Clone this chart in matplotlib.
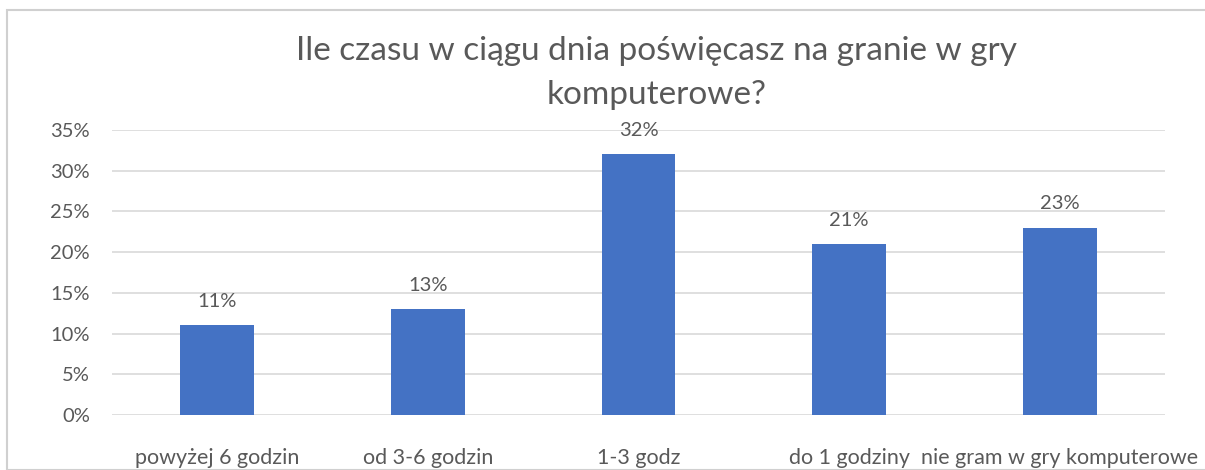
import matplotlib
matplotlib.use("Agg")
import matplotlib.pyplot as plt
from matplotlib.ticker import PercentFormatter
from matplotlib.patches import Rectangle

categories = ["powyżej 6 godzin", "od 3-6 godzin", "1-3 godz", "do 1 godziny", "nie gram w gry komputerowe"]
values = [11, 13, 32, 21, 23]
yticks = [0, 5, 10, 15, 20, 25, 30, 35]
title = "Ile czasu w ciągu dnia poświęcasz na granie w gry\nkomputerowe?"

plt.rcParams['font.family'] = ['Lato', 'DejaVu Sans']
TXT = "#595959"
BAR = "#4472C4"
GRID = "#D9D9D9"

W, H = 1205, 470
fig = plt.figure(figsize=(W / 100, H / 100), dpi=100)
fig.patches.append(Rectangle((7 / W, 0), 1.2, 1 - 10 / H, transform=fig.transFigure,
                             fill=False, edgecolor="#D0D0D0", linewidth=1.5))

left, right = 112, 1165
top, bottom = 130, 415
ax = fig.add_axes([left / W, 1 - bottom / H, (right - left) / W, (bottom - top) / H])

x = list(range(len(categories)))
bars = ax.bar(x, values, width=0.35, color=BAR, zorder=3)
ax.set_xlim(-0.5, len(categories) - 0.5)
ax.set_ylim(0, 35)
ax.set_yticks(yticks)
ax.yaxis.set_major_formatter(PercentFormatter(decimals=0))
ax.grid(axis="y", color=GRID, linewidth=1.2, zorder=0)
for s in ax.spines.values():
    s.set_visible(False)
ax.tick_params(axis="both", length=0, colors=TXT, labelsize=14)
ax.tick_params(axis="y", pad=16, labelsize=14.5)
ax.tick_params(axis="x", pad=24, labelsize=15.5)
ax.set_xticks(x)
ax.set_xticklabels(categories)

for b, v in zip(bars, values):
    ax.annotate(f"{v}%", (b.get_x() + b.get_width() / 2, v), xytext=(0, 11),
                textcoords="offset points", ha="center", va="bottom",
                color=TXT, fontsize=14.5)

fig.text(657 / W, 1 - 73 / H, title, ha="center", va="center", color=TXT,
         fontsize=24, fontweight="normal", linespacing=1.55)

fig.savefig("out.png", dpi=100, facecolor="white")
